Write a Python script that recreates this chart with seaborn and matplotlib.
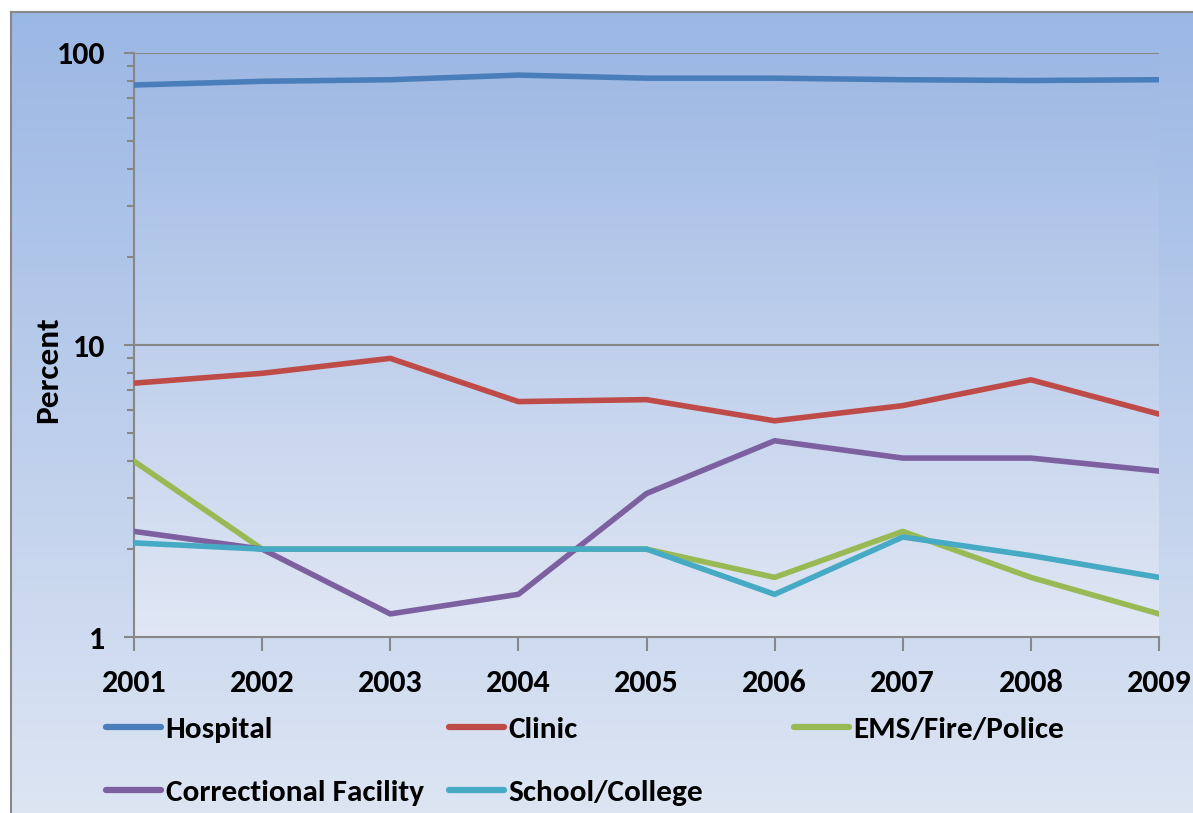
import numpy as np
import pandas as pd
import matplotlib
matplotlib.use("Agg")
import matplotlib.pyplot as plt
import matplotlib.ticker as mticker
from matplotlib.lines import Line2D
import seaborn as sns

years = [2001, 2002, 2003, 2004, 2005, 2006, 2007, 2008, 2009]
hospital = [77.7, 80.0, 81.0, 84.0, 82.0, 82.0, 81.0, 80.5, 81.0]
clinic = [7.4, 8.0, 9.0, 6.4, 6.5, 5.5, 6.2, 7.6, 5.8]
ems = [4.0, 2.0, 2.0, 2.0, 2.0, 1.6, 2.3, 1.6, 1.2]
correctional = [2.3, 2.0, 1.2, 1.4, 3.1, 4.7, 4.1, 4.1, 3.7]
school = [2.1, 2.0, 2.0, 2.0, 2.0, 1.4, 2.2, 1.9, 1.6]

series_names = ["Hospital", "Clinic", "EMS/Fire/Police", "Correctional Facility", "School/College"]
series_values = [hospital, clinic, ems, correctional, school]
colors = ["#4A7EBB", "#BE4B48", "#98B954", "#7D60A0", "#46AAC5"]

rows = []
for name, vals in zip(series_names, series_values):
    for y, v in zip(years, vals):
        rows.append({"Year": y, "Percent": v, "Series": name})
df = pd.DataFrame(rows)

sns.set_theme(style="white")
FONT = ['Carlito', 'DejaVu Sans']
plt.rcParams['font.family'] = FONT
plt.rcParams['text.color'] = 'black'
plt.rcParams['axes.labelcolor'] = 'black'

W, H = 1193, 813
fig = plt.figure(figsize=(W / 100, H / 100), dpi=100, facecolor="white")

# outer chart background with gradient
bg = fig.add_axes([11 / W, 0, 1 - 11 / W + 0.01, 1 - 12 / H], zorder=-10)
top_c = np.array([155, 183, 228]) / 255
bot_c = np.array([221, 229, 243]) / 255
t = np.linspace(0, 1, 256)[:, None]
grad = top_c[None, None, :] * (1 - t[:, :, None]) + bot_c[None, None, :] * t[:, :, None]
bg.imshow(grad, aspect="auto", extent=[0, 1, 0, 1], transform=bg.transAxes)
bg.set_xticks([]); bg.set_yticks([])
for s in ["right", "bottom"]:
    bg.spines[s].set_visible(False)
for s in ["left", "top"]:
    bg.spines[s].set_color("#888888")
    bg.spines[s].set_linewidth(1.5)

ax = fig.add_axes([134 / W, 1 - 637 / H, (1159 - 134) / W, (637 - 53) / H])
ax.patch.set_alpha(0)
ptop = np.array([157, 184, 228]) / 255
pbot = np.array([225, 231, 244]) / 255
pgrad = ptop[None, None, :] * (1 - t[:, :, None]) + pbot[None, None, :] * t[:, :, None]
ax.imshow(pgrad, aspect="auto", extent=[0, 1, 0, 1], transform=ax.transAxes, zorder=0)

sns.lineplot(data=df, x="Year", y="Percent", hue="Series", hue_order=series_names,
             palette=colors, linewidth=4.0, ax=ax, legend=False, zorder=3)

ax.set_yscale("log")
ax.set_ylim(1, 100)
ax.set_xlim(2001, 2009)
ax.set_xticks(years)
ax.set_xticklabels([str(y) for y in years])
ax.yaxis.set_major_locator(mticker.FixedLocator([1, 10, 100]))
ax.yaxis.set_major_formatter(mticker.FixedFormatter(["1", "10", "100"]))
ax.yaxis.set_minor_locator(mticker.LogLocator(base=10, subs=np.arange(2, 10)))
ax.yaxis.set_minor_formatter(mticker.NullFormatter())

ax.grid(False)
for yv in [10, 100]:
    ax.axhline(yv, color="#878787", lw=1.5, zorder=1)

for s in ["top", "right"]:
    ax.spines[s].set_visible(False)
for s in ["left", "bottom"]:
    ax.spines[s].set_color("#878787")
    ax.spines[s].set_linewidth(1.5)

ax.tick_params(axis="both", which="major", direction="out", length=7, width=1.5,
               color="#878787", labelsize=23, labelcolor="black")
ax.tick_params(axis="y", which="major", pad=13.5, left=True)
ax.tick_params(axis="x", which="major", pad=13, bottom=True, length=10)
ax.tick_params(axis="y", which="minor", direction="out", length=5, width=1.5, color="#878787", left=True)
for lbl in ax.get_xticklabels() + ax.get_yticklabels():
    lbl.set_fontweight("bold")
    lbl.set_family(FONT)

ax.set_xlabel("")
ax.set_ylabel("Percent", fontsize=24, fontweight="bold", family=FONT, color="black")
ax.yaxis.set_label_coords(-0.070, 0.457)

# legend laid out row-wise in three columns
legend_cols = [(106, [0, 3]), (449, [1, 4]), (794, [2])]
for xpx, idxs in legend_cols:
    hs = [Line2D([0], [0], color=colors[i], lw=4.5, solid_capstyle="round") for i in idxs]
    labs = [series_names[i] for i in idxs]
    leg = fig.legend(hs, labs, loc="upper left", bbox_to_anchor=(xpx / W, 1 - 716 / H),
                     frameon=False, prop={"family": FONT, "weight": "bold", "size": 22.5},
                     handlelength=1.75, handletextpad=0.16, labelspacing=1.16,
                     borderpad=0, borderaxespad=0)
    for txt in leg.get_texts():
        txt.set_color("black")

fig.savefig("out.png", dpi=100, facecolor="white")
